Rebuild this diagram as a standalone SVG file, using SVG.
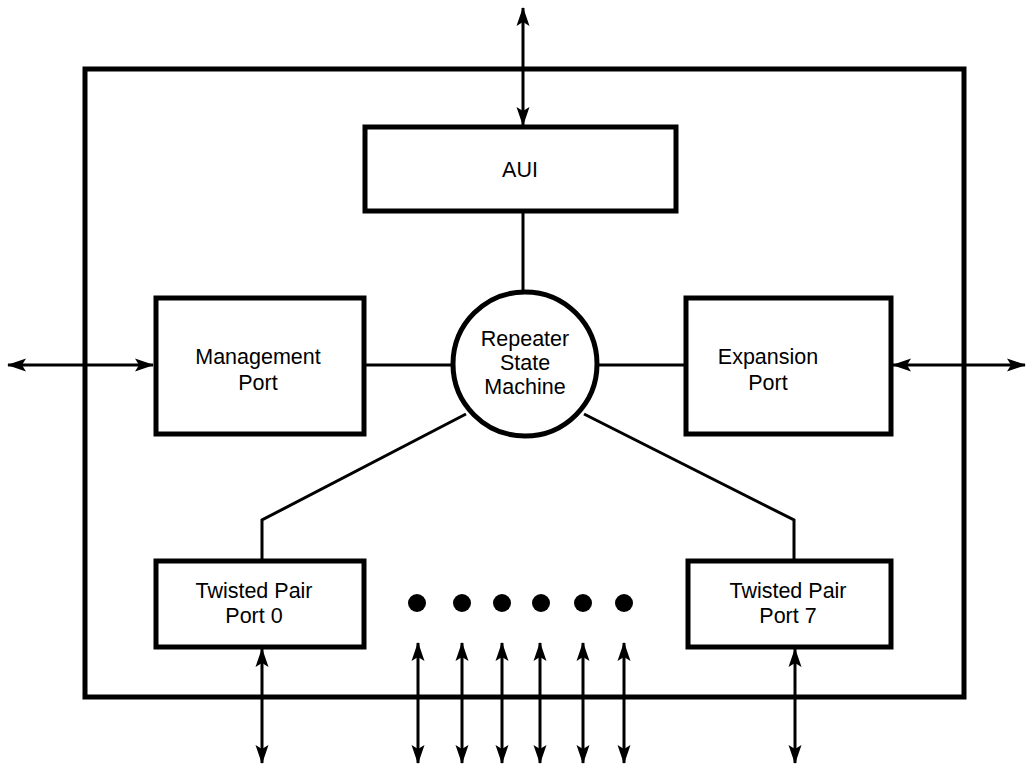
<svg xmlns="http://www.w3.org/2000/svg" width="1028" height="766" viewBox="0 0 1028 766">
<style>
.box{fill:#fff;stroke:#000;stroke-width:5}
.ln{fill:none;stroke:#000;stroke-width:3}
.t{font-family:"Liberation Sans",Arial,sans-serif;font-size:21.5px;fill:#000;text-anchor:middle}
</style>
<defs>
<marker id="ah" viewBox="-20 -7 22 14" refX="0" refY="0" markerWidth="22" markerHeight="14" markerUnits="userSpaceOnUse" orient="auto-start-reverse">
<path d="M1,0 L-18,-6.5 L-14,0 L-18,6.5 z" fill="#000"/>
</marker>
</defs>
<rect width="1028" height="766" fill="#fff"/>
<g id="frame"><rect x="85" y="69" width="879" height="628" fill="none" stroke="#000" stroke-width="5"/></g>
<g id="connectors">
<line class="ln" x1="523" y1="8" x2="523" y2="125" marker-start="url(#ah)" marker-end="url(#ah)"/>
<line class="ln" x1="523" y1="211" x2="523" y2="292"/>
<line class="ln" x1="8" y1="365" x2="153" y2="365" marker-start="url(#ah)" marker-end="url(#ah)"/>
<line class="ln" x1="893" y1="365" x2="1025" y2="365" marker-start="url(#ah)" marker-end="url(#ah)"/>
<line class="ln" x1="364" y1="365" x2="453" y2="365"/>
<line class="ln" x1="597" y1="365" x2="686" y2="365"/>
<polyline class="ln" points="262,560 262,520 466,414"/>
<polyline class="ln" points="794,560 794,520 584,414"/>
<line class="ln" x1="262" y1="649" x2="262" y2="763" marker-start="url(#ah)" marker-end="url(#ah)"/>
<line class="ln" x1="795" y1="649" x2="795" y2="763" marker-start="url(#ah)" marker-end="url(#ah)"/>
<line class="ln" x1="418" y1="643" x2="418" y2="763" marker-start="url(#ah)" marker-end="url(#ah)"/>
<line class="ln" x1="462" y1="643" x2="462" y2="763" marker-start="url(#ah)" marker-end="url(#ah)"/>
<line class="ln" x1="502" y1="643" x2="502" y2="763" marker-start="url(#ah)" marker-end="url(#ah)"/>
<line class="ln" x1="540" y1="643" x2="540" y2="763" marker-start="url(#ah)" marker-end="url(#ah)"/>
<line class="ln" x1="583" y1="643" x2="583" y2="763" marker-start="url(#ah)" marker-end="url(#ah)"/>
<line class="ln" x1="624" y1="643" x2="624" y2="763" marker-start="url(#ah)" marker-end="url(#ah)"/>
</g>
<g id="aui"><rect class="box" x="365" y="127" width="311" height="84"/><text class="t" x="520" y="177">AUI</text></g>
<g id="mgmt"><rect class="box" x="156" y="298" width="208" height="136"/><text class="t" x="258" y="364">Management</text><text class="t" x="258" y="390">Port</text></g>
<g id="exp"><rect class="box" x="686" y="298" width="205" height="136"/><text class="t" x="768" y="364">Expansion</text><text class="t" x="768" y="390">Port</text></g>
<g id="rsm"><circle cx="525" cy="364" r="72" fill="#fff" stroke="#000" stroke-width="5"/><text class="t" x="525" y="346">Repeater</text><text class="t" x="525" y="370">State</text><text class="t" x="525" y="394">Machine</text></g>
<g id="tp0"><rect class="box" x="156" y="561" width="208" height="86"/><text class="t" x="254" y="598">Twisted Pair</text><text class="t" x="254" y="623">Port 0</text></g>
<g id="tp7"><rect class="box" x="688" y="561" width="203" height="86"/><text class="t" x="788" y="598">Twisted Pair</text><text class="t" x="788" y="623">Port 7</text></g>
<g id="dots" fill="#000">
<circle cx="417" cy="603" r="9"/><circle cx="462" cy="603" r="9"/><circle cx="502" cy="603" r="9"/><circle cx="541" cy="603" r="9"/><circle cx="583" cy="603" r="9"/><circle cx="624" cy="603" r="9"/>
</g>
</svg>
